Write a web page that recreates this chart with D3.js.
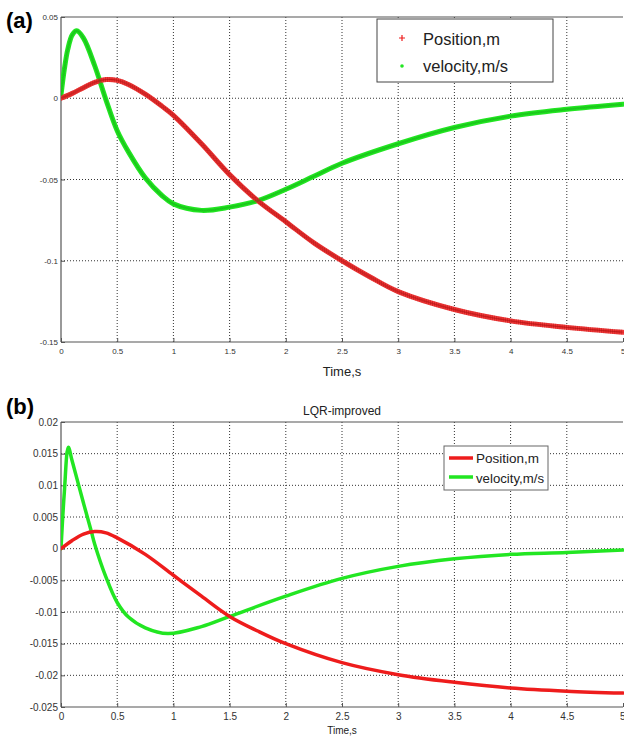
<!DOCTYPE html>
<html><head><meta charset="utf-8">
<script src="https://cdn.jsdelivr.net/npm/d3@7"></script>
<style>body{margin:0;background:#fff}svg{display:block}</style>
</head><body>
<svg id="c" width="624" height="737"></svg>
<script>
// ---- data ----
const xTicks = [0,0.5,1,1.5,2,2.5,3,3.5,4,4.5,5];
const xTickLabels = ["0","0.5","1","1.5","2","2.5","3","3.5","4","4.5","5"];
const yTicksA = [0.05,0,-0.05,-0.1,-0.15];
const yTickLabelsA = ["0.05","0","-0.05","-0.1","-0.15"];
const yTicksB = [0.02,0.015,0.01,0.005,0,-0.005,-0.01,-0.015,-0.02,-0.025];
const yTickLabelsB = ["0.02","0.015","0.01","0.005","0","-0.005","-0.01","-0.015","-0.02","-0.025"];
const seriesNames = ["Position,m","velocity,m/s"];

const timeA_pos = [0,0.1,0.2,0.3,0.4,0.5,0.6,0.75,0.9,1,1.25,1.5,1.75,2,2.25,2.5,2.75,3,3.5,4,4.5,5];
const posA      = [0,0.003,0.0065,0.0098,0.0115,0.011,0.0085,0.0025,-0.005,-0.0105,-0.028,-0.047,-0.063,-0.076,-0.089,-0.1,-0.11,-0.119,-0.13,-0.137,-0.141,-0.144];
const timeA_vel = [0,0.03,0.06,0.1,0.14,0.2,0.3,0.4,0.5,0.6,0.75,0.9,1,1.25,1.5,1.75,2,2.25,2.5,3,3.5,4,4.5,5];
const velA      = [0.002,0.018,0.03,0.039,0.0415,0.037,0.02,-0.001,-0.02,-0.033,-0.049,-0.06,-0.065,-0.069,-0.067,-0.063,-0.056,-0.048,-0.04,-0.028,-0.018,-0.011,-0.0068,-0.0037];

const timeB_pos = [0,0.1,0.2,0.3,0.4,0.5,0.75,1,1.25,1.5,1.75,2,2.5,3,3.5,4,4.5,5];
const posB      = [0,0.0013,0.0023,0.0027,0.0025,0.0017,-0.0009,-0.0042,-0.0075,-0.0107,-0.013,-0.015,-0.018,-0.0199,-0.0211,-0.022,-0.0225,-0.0228];
const timeB_vel = [0,0.03,0.065,0.1,0.2,0.27,0.3,0.4,0.5,0.6,0.75,0.95,1.25,1.5,2,2.5,3,3.5,4,4.5,5];
const velB      = [0,0.009,0.016,0.0138,0.0072,0.0027,0.0007,-0.0045,-0.0085,-0.0108,-0.0125,-0.0134,-0.0123,-0.0107,-0.0075,-0.0047,-0.0028,-0.0016,-0.0009,-0.0006,-0.0002];

const RED = "#ee1c1c", GREEN = "#22e622";
const svg = d3.select("#c");
const FF = "Liberation Sans, Arial, sans-serif";

function panel(o){
  const g = svg.append("g");
  const x = d3.scaleLinear().domain([0,5]).range([o.left,o.right]);
  const y = d3.scaleLinear().domain(o.ydom).range([o.bottom,o.top]);
  g.selectAll(".gx").data(xTicks.slice(1,-1)).join("line")
    .attr("x1",d=>x(d)).attr("x2",d=>x(d)).attr("y1",o.top).attr("y2",o.bottom)
    .attr("stroke","#333").attr("stroke-width",1).attr("stroke-dasharray","1,2");
  g.selectAll(".gy").data(o.yt.slice(1,-1)).join("line")
    .attr("y1",d=>y(d)).attr("y2",d=>y(d)).attr("x1",o.left).attr("x2",o.right)
    .attr("stroke","#333").attr("stroke-width",1).attr("stroke-dasharray","1,2");
  g.append("line").attr("x1",o.left).attr("x2",o.right).attr("y1",o.top).attr("y2",o.top).attr("stroke","#555").attr("stroke-width",1.2);
  g.append("line").attr("x1",o.left).attr("x2",o.right).attr("y1",o.bottom).attr("y2",o.bottom).attr("stroke","#555").attr("stroke-width",1.2);
  g.append("line").attr("x1",o.left).attr("x2",o.left).attr("y1",o.top).attr("y2",o.bottom).attr("stroke","#555").attr("stroke-width",1.2);
  const ax = d3.axisBottom(x).tickValues(xTicks).tickFormat((d,i)=>xTickLabels[i]).tickSize(-4).tickPadding(6);
  const axg = g.append("g").attr("transform",`translate(0,${o.bottom})`).call(ax);
  axg.select(".domain").remove();
  axg.selectAll("line").attr("stroke","#555");
  axg.selectAll("text").attr("font-family",FF).attr("font-size",o.tfs).attr("fill","#333");
  axg.selectAll("text").filter(d=>d===5).attr("text-anchor","end").attr("dx",2);
  const ay = d3.axisLeft(y).tickValues(o.yt).tickFormat((d,i)=>o.ytl[i]).tickSize(-4).tickPadding(3);
  const ayg = g.append("g").attr("transform",`translate(${o.left},0)`).call(ay);
  ayg.select(".domain").remove();
  ayg.selectAll("line").attr("stroke","#555");
  ayg.selectAll("text").attr("font-family",FF).attr("font-size",o.tfs).attr("fill","#333");
  g.append("text").attr("x",x(2.5)).attr("y",o.xly).attr("text-anchor","middle")
    .attr("font-family",FF).attr("font-size",o.xlfs).attr("fill","#222").text("Time,s");
  const clipId = "clip"+o.id;
  svg.append("clipPath").attr("id",clipId).append("rect").attr("x",o.left).attr("y",o.top-4).attr("width",o.right-o.left+2).attr("height",o.bottom-o.top+8);
  const line = d3.line().x(d=>x(d[0])).y(d=>y(d[1])).curve(d3.curveCatmullRom.alpha(0.5));
  const lg = g.append("g").attr("clip-path",`url(#${clipId})`);
  const pd = o.tp.map((t,i)=>[t,o.pv[i]]);
  const vd = o.tv.map((t,i)=>[t,o.vv[i]]);
  lg.append("path").datum(vd).attr("d",line).attr("fill","none").attr("stroke",GREEN).attr("stroke-width",o.sw).attr("stroke-linejoin","round").attr("stroke-linecap","round");
  lg.append("path").datum(pd).attr("d",line).attr("fill","none").attr("stroke",o.redc||RED).attr("stroke-width",o.sw).attr("stroke-linejoin","round").attr("stroke-linecap","round");
  if(o.markers){
    lg.selectAll("path").each(function(_,k){
      const p=this, L=p.getTotalLength(), col = k===0? "#16b016":"#b01010";
      for(let s=0;s<L;s+=2.2){
        const pt=p.getPointAtLength(s);
        if(k===1){
          lg.append("path").attr("d",`M${pt.x-2.5},${pt.y}h5M${pt.x},${pt.y-2.5}v5`).attr("stroke",col).attr("stroke-width",0.6).attr("opacity",0.7);
        } else {
          lg.append("circle").attr("cx",pt.x).attr("cy",pt.y).attr("r",1.3).attr("fill",col).attr("opacity",0.5);
        }
      }
    });
  }
  return {x,y,g};
}

panel({id:"a",left:61,right:623,top:17,bottom:342,ydom:[-0.15,0.05],yt:yTicksA,ytl:yTickLabelsA,tfs:8,
  xly:376,xlfs:13,tp:timeA_pos,pv:posA,tv:timeA_vel,vv:velA,sw:5,markers:true,redc:"#f23a3a"});
panel({id:"b",left:61,right:623,top:422,bottom:707,ydom:[-0.025,0.02],yt:yTicksB,ytl:yTickLabelsB,tfs:10,
  xly:734,xlfs:10,tp:timeB_pos,pv:posB,tv:timeB_vel,vv:velB,sw:3.5,markers:false});

svg.append("text").attr("x",6).attr("y",28).attr("font-family",FF).attr("font-weight","bold").attr("font-size",22).text("(a)");
svg.append("text").attr("x",6).attr("y",414).attr("font-family",FF).attr("font-weight","bold").attr("font-size",22).text("(b)");
svg.append("text").attr("x",342).attr("y",415).attr("text-anchor","middle").attr("font-family",FF).attr("font-size",12).attr("fill","#222").text("LQR-improved");

const la = svg.append("g");
la.append("rect").attr("x",377).attr("y",19).attr("width",176).attr("height",63).attr("fill","#fff").attr("stroke","#444").attr("stroke-width",1);
la.append("path").attr("d","M399,38h6M402,35v6").attr("stroke",RED).attr("stroke-width",1.2);
la.append("circle").attr("cx",402).attr("cy",66).attr("r",1.8).attr("fill",GREEN);
la.selectAll("text").data(seriesNames).join("text").attr("x",423).attr("y",(d,i)=>45+i*27)
  .attr("font-family",FF).attr("font-size",17).attr("fill","#222").attr("textLength",(d,i)=>i?85:77).attr("lengthAdjust","spacingAndGlyphs").text(d=>d);

const lb = svg.append("g");
lb.append("rect").attr("x",444).attr("y",446).attr("width",104).attr("height",44).attr("fill","#fff").attr("stroke","#666").attr("stroke-width",1);
lb.append("line").attr("x1",449).attr("x2",473).attr("y1",458).attr("y2",458).attr("stroke",RED).attr("stroke-width",3.5);
lb.append("line").attr("x1",449).attr("x2",473).attr("y1",477).attr("y2",477).attr("stroke",GREEN).attr("stroke-width",3.5);
lb.selectAll("text").data(seriesNames).join("text").attr("x",476).attr("y",(d,i)=>463+i*20)
  .attr("font-family",FF).attr("font-size",13).attr("fill","#222").attr("textLength",(d,i)=>i?68:63).attr("lengthAdjust","spacingAndGlyphs").text(d=>d);
</script>
</body></html>
